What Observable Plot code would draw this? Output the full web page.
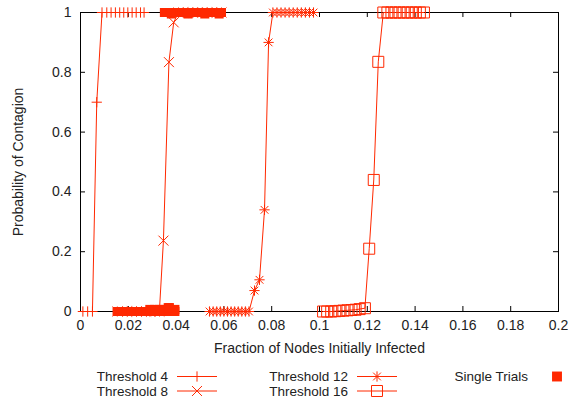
<!DOCTYPE html>
<html><head><meta charset="utf-8">
<script src="https://cdn.jsdelivr.net/npm/d3@7"></script>
<script src="https://cdn.jsdelivr.net/npm/@observablehq/plot@0.6"></script>
<style>
body{margin:0;background:#fff;}
#chart svg{display:block}
</style></head><body><div id="chart"></div><script>
const RED = "#ff2800";
const FONT = "'Liberation Sans', Arial, Helvetica, sans-serif";

const xTicks = [0, 0.02, 0.04, 0.06, 0.08, 0.1, 0.12, 0.14, 0.16, 0.18, 0.2];
const xTickLabels = ["0", "0.02", "0.04", "0.06", "0.08", "0.1", "0.12", "0.14", "0.16", "0.18", "0.2"];
const yTicks = [0, 0.2, 0.4, 0.6, 0.8, 1];
const yTickLabels = ["0", "0.2", "0.4", "0.6", "0.8", "1"];

// Threshold 4
const t4x = [0.001, 0.003, 0.005, 0.0068, 0.009, 0.011, 0.0128, 0.0146, 0.0164, 0.0181, 0.0198, 0.0216, 0.0233, 0.0251, 0.0266];
const t4y = [0, 0, 0, 0.70, 1, 1, 1, 1, 1, 1, 1, 1, 1, 1, 1];
// Threshold 8
const t8x = [0.0155, 0.0175, 0.0195, 0.0215, 0.0235, 0.0255, 0.0275, 0.0295, 0.031, 0.033, 0.0347, 0.037, 0.039, 0.041, 0.043, 0.045, 0.047, 0.049, 0.051, 0.053, 0.055, 0.057, 0.059];
const t8y = [0, 0, 0, 0, 0, 0, 0, 0, 0, 0, 0.237, 0.834, 0.967, 1, 1, 1, 1, 1, 1, 1, 1, 1, 1];
// Threshold 12
const t12x = [0.054, 0.0555, 0.057, 0.0585, 0.06, 0.0615, 0.063, 0.0645, 0.066, 0.0675, 0.069, 0.0705, 0.0728, 0.0749, 0.077, 0.0787, 0.0805, 0.0822, 0.0839, 0.0856, 0.0873, 0.089, 0.0907, 0.0924, 0.0941, 0.0958, 0.0975];
const t12y = [0, 0, 0, 0, 0, 0, 0, 0, 0, 0, 0, 0, 0.07, 0.106, 0.34, 0.90, 1, 1, 1, 1, 1, 1, 1, 1, 1, 1, 1];
// Threshold 16
const t16x = [0.1015, 0.1032, 0.1049, 0.1066, 0.1083, 0.11, 0.1117, 0.1134, 0.1151, 0.1168, 0.119, 0.1208, 0.1227, 0.1246, 0.1267, 0.1284, 0.1301, 0.1318, 0.1335, 0.1352, 0.1369, 0.1386, 0.1403, 0.142, 0.1437];
const t16y = [0, 0, 0, 0.001, 0.002, 0.003, 0.004, 0.005, 0.006, 0.008, 0.011, 0.21, 0.44, 0.835, 1, 1, 1, 1, 1, 1, 1, 1, 1, 1, 1];
// Single trials
const trialX = [0.0153, 0.0165, 0.0177, 0.0189, 0.0201, 0.0213, 0.0225, 0.0237, 0.0249, 0.0261, 0.0273, 0.0285, 0.0297, 0.0309, 0.0321, 0.0333, 0.0345, 0.0357, 0.0369, 0.0381, 0.0395,
  0.029, 0.031, 0.033, 0.035, 0.037, 0.0395, 0.0367, 0.0372,
  0.0351, 0.0363, 0.0375, 0.0387, 0.0399, 0.0411, 0.0423, 0.0435, 0.0447, 0.0459, 0.0471, 0.0483, 0.0495, 0.0507, 0.0519, 0.0531, 0.0543, 0.0555, 0.0567, 0.0579, 0.059,
  0.038, 0.045, 0.052, 0.058];
const trialY = [0, 0, 0, 0, 0, 0, 0, 0, 0, 0, 0, 0, 0, 0, 0, 0, 0, 0, 0, 0, 0,
  0.007, 0.007, 0.007, 0.007, 0.007, 0.007, 0.013, 0.013,
  1, 1, 1, 1, 1, 1, 1, 1, 1, 1, 1, 1, 1, 1, 1, 1, 1, 1, 1, 1, 1,
  0.995, 0.995, 0.995, 0.995];

const seriesNames = ["Threshold 4", "Threshold 8", "Threshold 12", "Threshold 16"];
const seriesX = [t4x, t8x, t12x, t16x];
const seriesY = [t4y, t8y, t12y, t16y];
// each marker is one or more stroked symbols overlaid (gnuplot's "*" = plus + times)
const seriesSymbols = [["plus"], ["times"], ["plus", "times"], ["square2"]];
const seriesR = [[3.4], [4.6], [3.4, 3.6], [7]];

const zip = (xs, ys, name) => xs.map((x, i) => ({x, y: ys[i], name}));
const seriesData = seriesNames.map((n, k) => zip(seriesX[k], seriesY[k], n));
const trials = zip(trialX, trialY, "Single Trials");

const W = 580, H = 362, mT = 12, mB = 51, mL = 80, mR = 22;
const innerH = H - mT - mB, innerW = W - mL - mR;

const marks = [
  Plot.frame({stroke: "#000", strokeWidth: 1}),
  Plot.tickX(xTicks, {x: d => d, insetTop: innerH - 5, stroke: "#000"}),
  Plot.tickX(xTicks, {x: d => d, insetBottom: innerH - 5, stroke: "#000"}),
  Plot.tickY(yTicks, {y: d => d, insetRight: innerW - 5, stroke: "#000"}),
  Plot.tickY(yTicks, {y: d => d, insetLeft: innerW - 5, stroke: "#000"}),
  Plot.axisX({ticks: xTicks, tickSize: 0, tickPadding: 9, tickFormat: d => xTickLabels[xTicks.indexOf(d)],
    label: "Fraction of Nodes Initially Infected", labelAnchor: "center", labelArrow: "none", labelOffset: 41}),
  Plot.axisY({ticks: yTicks, tickSize: 0, tickPadding: 9, tickFormat: d => yTickLabels[yTicks.indexOf(d)],
    label: "Probability of Contagion", labelAnchor: "center", labelArrow: "none", labelOffset: 67})
];
seriesData.forEach((data, k) => {
  marks.push(Plot.line(data, {x: "x", y: "y", stroke: RED, strokeWidth: 1}));
  seriesSymbols[k].forEach((sym, j) => {
    marks.push(Plot.dot(data, {x: "x", y: "y", symbol: () => sym, r: seriesR[k][j], stroke: RED, strokeWidth: 1, fill: "none"}));
  });
});
marks.push(Plot.dot(trials, {x: "x", y: "y", symbol: "square", r: 5.1, fill: RED, stroke: "none"}));

const chart = Plot.plot({
  width: W, height: H, marginTop: mT, marginBottom: mB, marginLeft: mL, marginRight: mR,
  x: {domain: [0, 0.2], axis: null},
  y: {domain: [0, 1], axis: null},
  symbol: {type: "identity"},
  style: {fontFamily: FONT, fontSize: "14px", color: "#222", background: "#fff"},
  marks
});
document.getElementById("chart").appendChild(chart);

// Legend below the plot
const symbolByName = {plus: d3.symbolPlus, times: d3.symbolTimes, square2: d3.symbolSquare2};
const legendNames = [...seriesNames, "Single Trials"];
const legendCol = [0, 0, 1, 1, 2];
const legendRow = [0, 1, 0, 1, 0];
const colEnd = [168, 348, 528];
const rowY = [14.5, 29];

const lg = d3.select("#chart").append("svg").attr("width", W).attr("height", 403 - H)
  .style("display", "block").style("font-family", FONT).style("font-size", "13.5px");
legendNames.forEach((name, i) => {
  const xe = colEnd[legendCol[i]], yc = rowY[legendRow[i]];
  lg.append("text").attr("x", xe).attr("y", yc).attr("dy", "0.35em").attr("text-anchor", "end")
    .attr("fill", "#222").text(name);
  const cx = xe + 29;
  if (i < 4) {
    lg.append("line").attr("x1", xe + 9).attr("x2", xe + 49).attr("y1", yc).attr("y2", yc)
      .attr("stroke", RED).attr("stroke-width", 1);
    seriesSymbols[i].forEach((sym, j) => {
      const r = seriesR[i][j];
      lg.append("path").attr("transform", `translate(${cx},${yc})`)
        .attr("d", d3.symbol(symbolByName[sym], r * r * Math.PI)())
        .attr("fill", "none").attr("stroke", RED);
    });
  } else {
    lg.append("path").attr("transform", `translate(${cx},${yc})`)
      .attr("d", d3.symbol(d3.symbolSquare, 5.6 * 5.6 * Math.PI)())
      .attr("fill", RED);
  }
});
</script></body></html>
